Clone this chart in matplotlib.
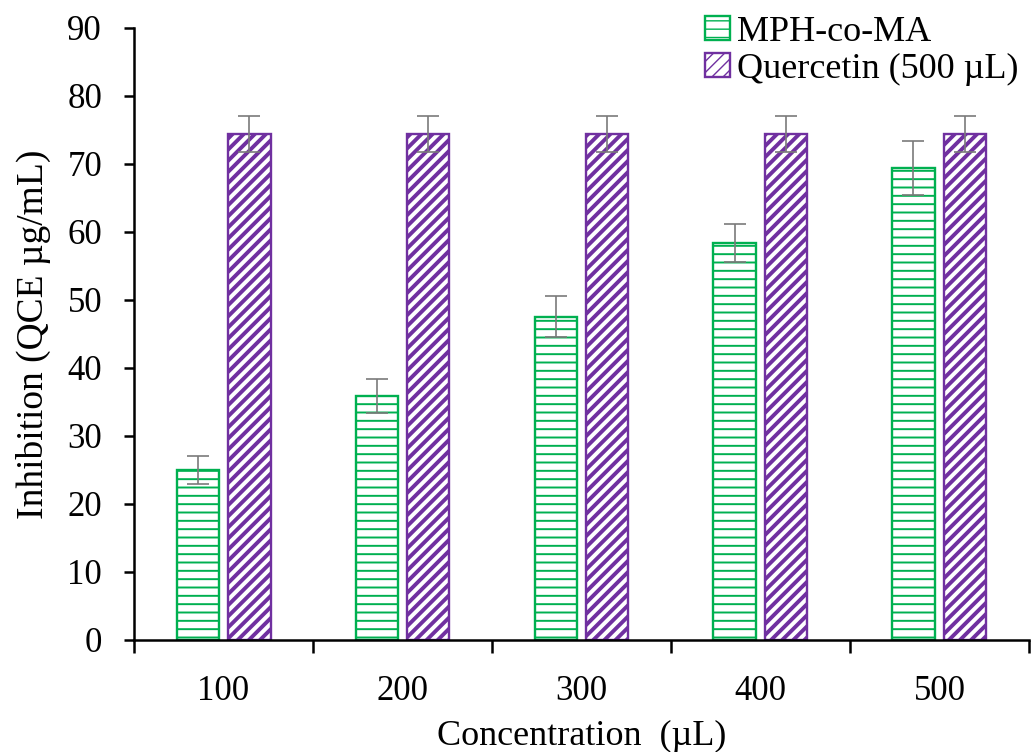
import numpy as np
import matplotlib
matplotlib.use('Agg')
import matplotlib.pyplot as plt

# Data
concentrations = ['100', '200', '300', '400', '500']
mph_values = [25.0, 35.8, 47.5, 58.3, 69.4]
mph_err = [2.1, 2.5, 3.0, 2.8, 4.0]
quercetin_values = [74.4, 74.4, 74.4, 74.4, 74.4]
quercetin_err = [2.7, 2.7, 2.7, 2.7, 2.7]

green = '#00B050'
purple = '#7030A0'

plt.rcParams['font.family'] = ['Liberation Serif', 'DejaVu Serif']

fig = plt.figure(figsize=(10.31, 7.52), dpi=100)
ax = fig.add_axes([0.130, 0.149, 0.868, 0.814])

x = np.arange(1, len(concentrations) + 1)
width = 0.235
offset = 0.145

with plt.rc_context({'hatch.linewidth': 1.4}):
    ax.bar(x - offset, mph_values, width, facecolor='white', edgecolor=green,
           hatch='--', linewidth=1.7, label='MPH-co-MA', zorder=2)
with plt.rc_context({'hatch.linewidth': 2.8}):
    ax.bar(x + offset, quercetin_values, width, facecolor='white', edgecolor=purple,
           hatch='///', linewidth=1.7, label='Quercetin (500 µL)', zorder=2)

ax.errorbar(x - offset, mph_values, yerr=mph_err, fmt='none', ecolor='#7a7a7a',
            elinewidth=1.2, capsize=8, capthick=1.2, zorder=3)
ax.errorbar(x + offset, quercetin_values, yerr=quercetin_err, fmt='none', ecolor='#7a7a7a',
            elinewidth=1.2, capsize=8, capthick=1.2, zorder=3)

ax.set_xlim(0.5, len(concentrations) + 0.5)
ax.set_ylim(0, 90)
ax.set_yticks(np.arange(0, 91, 10))

# Excel-style category axis: ticks on boundaries, labels centered
ax.set_xticks(np.arange(0.5, len(concentrations) + 1, 1))
ax.set_xticklabels([])
ax.set_xticks(x, minor=True)
ax.set_xticklabels(concentrations, minor=True)
ax.tick_params(axis='x', which='major', direction='out', length=9, width=1.8)
ax.tick_params(axis='x', which='minor', length=0, pad=25, labelsize=25)
ax.tick_params(axis='y', direction='out', length=7, width=1.8, labelsize=25, pad=16)

for side in ['top', 'right']:
    ax.spines[side].set_visible(False)
for side in ['left', 'bottom']:
    ax.spines[side].set_linewidth(1.8)

ax.set_xlabel('Concentration  (µL)', fontsize=26, labelpad=9)
ax.set_ylabel('Inhibition (QCE µg/mL)', fontsize=27, labelpad=12)

ax.legend(loc='upper right', bbox_to_anchor=(1.005, 1.043), frameon=False, fontsize=26,
          handlelength=0.7, handleheight=0.65, handletextpad=0.2, labelspacing=0.1,
          borderaxespad=0)

fig.savefig('out.png', dpi=100)
